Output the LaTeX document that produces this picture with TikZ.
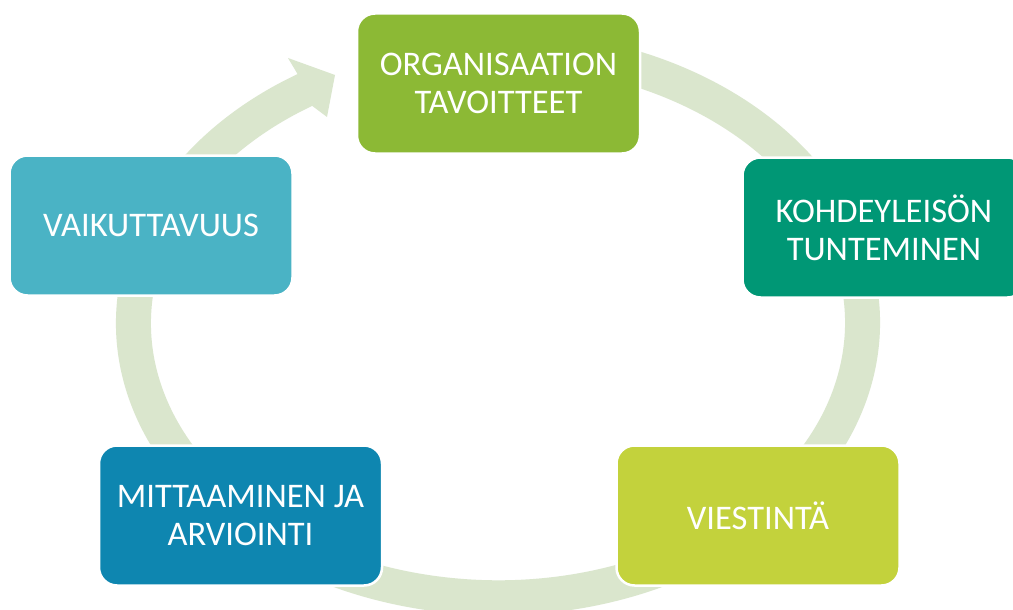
\documentclass[tikz,border=0pt]{standalone}
\usepackage{fontspec}
\setmainfont{Carlito}
\definecolor{cOrg}{RGB}{140,185,53}
\definecolor{cKoh}{RGB}{0,151,117}
\definecolor{cVie}{RGB}{195,210,60}
\definecolor{cMit}{RGB}{14,134,176}
\definecolor{cVai}{RGB}{74,179,197}
\definecolor{cRing}{RGB}{218,230,205}
\begin{document}
\begin{tikzpicture}[x=1pt,y=-1pt,
  box/.style={draw=white, line width=2.5pt, rounded corners=18pt,
    minimum width=283pt, minimum height=140pt, text=white, align=center,
    font=\fontsize{34.5}{38}\selectfont, inner sep=0pt},
  ring/.style={draw=cRing, line width=35pt}]
\useasboundingbox (0,0) rectangle (1013,610);
\clip (0,0) rectangle (1013,610);
\fill[white] (0,0) rectangle (1013,610);
\coordinate (C) at (498,323);
% ring
\draw[ring] (C) ++(-80:364.5 and 274.75)
  arc[start angle=-80, end angle=238.5, x radius=364.5, y radius=274.75];
% arrow head
\coordinate (b1) at (288,58);
\coordinate (tip) at (335,75);
\coordinate (b2) at (327,117);
\coordinate (n2) at (312.2,105.9);
\coordinate (n1) at (297.6,74.1);
\fill[cRing] (b1) -- (tip) -- (b2) -- (n2) -- (n1) -- cycle;
% boxes
\node[box, fill=cOrg] (org) at (498.5,83.5) {ORGANISAATION\\TAVOITTEET};
\node[box, fill=cKoh] (koh) at (884,227.5) {KOHDEYLEIS\"ON\\TUNTEMINEN};
\node[box, fill=cVie] (vie) at (758,515.5) {VIESTINT\"A};
\node[box, fill=cMit] (mit) at (240.5,515.5) {MITTAAMINEN JA\\ARVIOINTI};
\node[box, fill=cVai] (vai) at (151,225.5) {VAIKUTTAVUUS};
\end{tikzpicture}
\end{document}
